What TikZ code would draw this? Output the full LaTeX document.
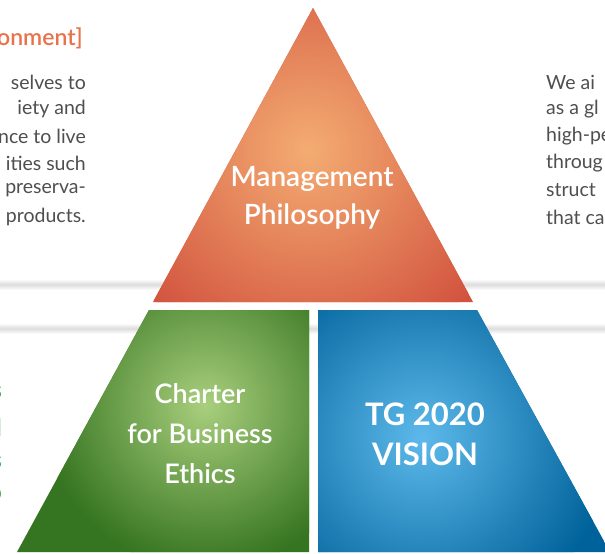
\documentclass[tikz,border=0pt]{standalone}
\usepackage{fontspec}
\setmainfont{Lato}
\newfontfamily\labelfont{Lato}[UprightFont=* Semibold, BoldFont=* Bold]

\definecolor{mgmtdark}{HTML}{D2543F}
\definecolor{mgmtlight}{HTML}{F4AC72}
\definecolor{ethicsdark}{HTML}{357420}
\definecolor{ethicslight}{HTML}{A9CF7D}
\definecolor{visiondark}{HTML}{00629A}
\definecolor{visionlight}{HTML}{5DB9EB}
\definecolor{bodygray}{HTML}{4F4F4F}
\definecolor{headorange}{HTML}{E8734A}
\definecolor{headgreen}{HTML}{3DAF5A}
\definecolor{bandgray}{HTML}{DDDDDD}

\tikzset{
  band/.style={top color=white, bottom color=white, middle color=bandgray},
  pyrlabel/.style={text=white, align=center, font=\labelfont\fontsize{28}{38}\selectfont},
  visionlabel/.style={text=white, align=center, font=\labelfont\bfseries\fontsize{31}{40}\selectfont},
  bodyleft/.style={text=bodygray, anchor=east, inner sep=0pt, font=\fontsize{19.5}{23}\selectfont},
  bodyright/.style={text=bodygray, anchor=west, inner sep=0pt, font=\fontsize{19.5}{23}\selectfont},
}

\begin{document}
\begin{tikzpicture}[x=1pt,y=-1pt]
    \useasboundingbox (0,0) rectangle (605,554);
    \clip (0,0) rectangle (605,554);
    \fill[white] (0,0) rectangle (605,554);

    %% Grey rules behind the pyramid
    \shade[band] (0,279) rectangle (605,290);
    \shade[band] (0,323) rectangle (605,334);

    %% Pyramid corners
    \coordinate (apex) at (313,8);
    \coordinate (tl) at (153,302);
    \coordinate (tr) at (473,302);

    %% Management philosophy
    \begin{scope}
        \clip (apex) -- (tl) -- (tr) -- cycle;
        \fill[mgmtdark] (0,0) rectangle (605,310);
        \shade[inner color=mgmtlight, outer color=mgmtdark] (308,150) circle (215);
    \end{scope}

    %% Charter for business ethics
    \begin{scope}
        \clip (149,310) -- (309,310) -- (309,552) -- (17,552) -- cycle;
        \fill[ethicsdark] (0,310) rectangle (320,554);
        \shade[inner color=ethicslight, outer color=ethicsdark] (205,405) circle (165);
    \end{scope}

    %% Vision
    \begin{scope}
        \clip (318,310) -- (477,310) -- (610,552) -- (318,552) -- cycle;
        \fill[visiondark] (310,310) rectangle (610,554);
        \shade[inner color=visionlight, outer color=visiondark] (422,438) circle (190);
    \end{scope}

    %% Labels
    \node[pyrlabel] (mgmt) at (312,198) {Management\\Philosophy};
    \node[pyrlabel, font=\labelfont\fontsize{27}{40}\selectfont] (ethics) at (200,434) {Charter\\for Business\\Ethics};
    \node[visionlabel] (vision) at (425,434) {TG 2020\\VISION};

    %% Side text
    \node[anchor=east, inner sep=0pt, text=headorange, font=\labelfont\fontsize{23}{27}\selectfont] (head) at (83,38) {onment]};
    \node[bodyleft] (l1) at (86,82) {selves to};
    \node[bodyleft] (l2) at (86,109) {iety and};
    \node[bodyleft] (l3) at (86,136) {nce to live};
    \node[bodyleft] (l4) at (86,163) {ities such};
    \node[bodyleft] (l5) at (86,190) {preserva-};
    \node[bodyleft] (l6) at (86,217) {products.};

    \node[bodyright] (r1) at (546,82) {We ai};
    \node[bodyright] (r2) at (546,109) {as a gl};
    \node[bodyright] (r3) at (546,136) {high-pe};
    \node[bodyright] (r4) at (546,163) {throug};
    \node[bodyright] (r5) at (546,190) {struct};
    \node[bodyright] (r6) at (546,217) {that ca};

    %% Green heading cut at the edge
    \foreach \ch/\yy [count=\i] in {s/392, l/428, s/462, o/494}
        \node[anchor=east, inner sep=0pt, text=headgreen, font=\labelfont\bfseries\fontsize{24}{28}\selectfont] (g\i) at (2,\yy) {\ch};
\end{tikzpicture}
\end{document}
